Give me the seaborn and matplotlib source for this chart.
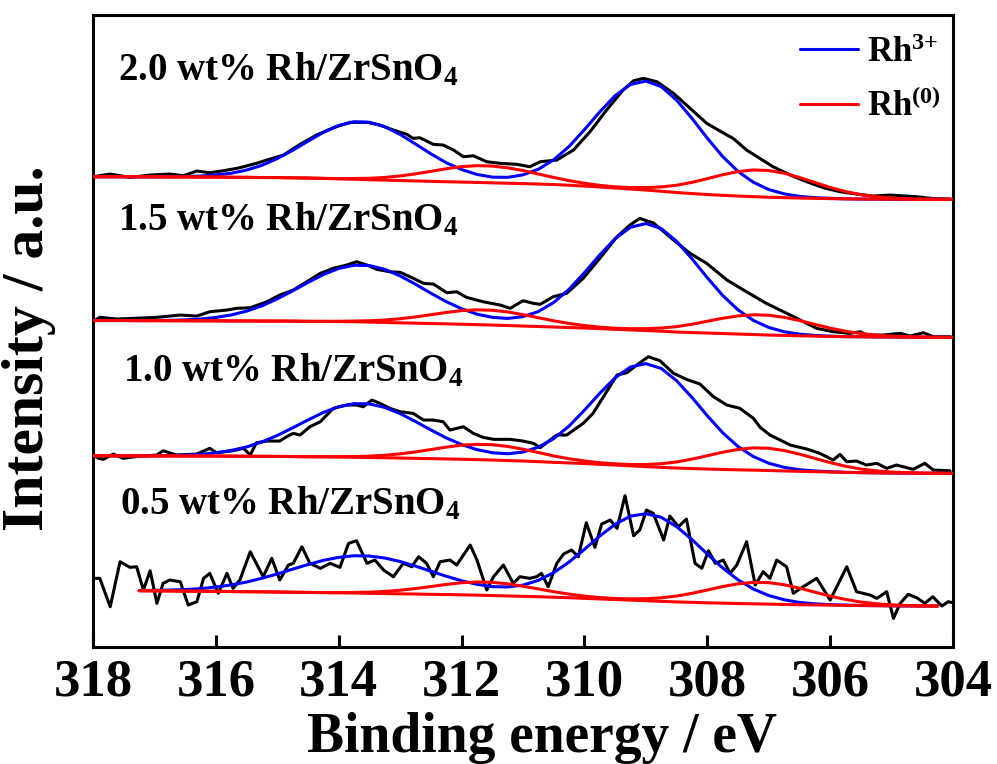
import numpy as np
import matplotlib
matplotlib.use('Agg')
import matplotlib.pyplot as plt
import seaborn as sns

# ---------------- data ----------------
sample_labels = ['2.0 wt% Rh/ZrSnO$_4$', '1.5 wt% Rh/ZrSnO$_4$',
                 '1.0 wt% Rh/ZrSnO$_4$', '0.5 wt% Rh/ZrSnO$_4$']
legend_labels = ['Rh$^{3{+}}$', 'Rh$^{(0)}$']
x_ticks = [318, 316, 314, 312, 310, 308, 306, 304]

# experimental spectra (binding energy / eV, stacked intensity / a.u.)
exp_E_20 = [318.00, 317.72, 317.40, 317.07, 316.75, 316.53, 316.31, 316.10, 315.88, 315.66,
            315.55, 315.34, 315.17, 314.90, 314.63, 314.36, 314.09, 313.82, 313.54, 313.33,
            313.11, 312.89, 312.79, 312.68, 312.46, 312.30, 312.13, 311.97, 311.81, 311.59,
            311.37, 311.10, 310.89, 310.72, 310.45, 310.18, 309.91, 309.64, 309.37, 309.20,
            309.04, 308.82, 308.55, 308.28, 308.01, 307.68, 307.58, 307.36, 306.93, 306.65,
            306.38, 306.11, 305.84, 305.57, 305.30, 305.03, 304.59, 304.33, 304.05]
exp_I_20 = [470.3, 473.0, 469.7, 472.0, 473.0, 471.3, 476.0, 474.3, 476.3, 478.7,
            480.3, 483.7, 487.0, 492.0, 502.7, 512.0, 519.3, 524.7, 524.7, 522.0,
            517.0, 512.7, 508.7, 509.3, 502.7, 502.0, 497.0, 490.3, 491.3, 485.3,
            483.7, 482.7, 480.3, 485.3, 487.0, 497.0, 515.3, 537.0, 557.0, 566.3,
            568.7, 565.3, 553.7, 538.7, 523.7, 512.0, 508.7, 497.0, 480.3, 472.0,
            465.3, 459.3, 455.3, 453.0, 451.0, 452.0, 450.3, 448.5, 448.0]

exp_E_15 = [318.00, 317.89, 317.61, 317.34, 316.96, 316.58, 316.31, 316.10, 315.82, 315.66,
            315.44, 315.17, 314.96, 314.74, 314.52, 314.30, 314.09, 313.87, 313.71, 313.54,
            313.38, 313.17, 313.00, 312.84, 312.62, 312.46, 312.24, 312.08, 311.92, 311.65,
            311.37, 311.21, 311.00, 310.83, 310.72, 310.51, 310.29, 310.02, 309.75, 309.47,
            309.26, 309.10, 308.99, 308.88, 308.55, 308.28, 308.01, 307.68, 307.41, 307.04,
            306.65, 306.22, 305.95, 305.68, 305.51, 305.41, 305.14, 304.86, 304.70, 304.48,
            304.32, 304.05]
exp_I_15 = [325.3, 329.7, 328.0, 328.7, 329.7, 332.0, 331.0, 335.3, 337.0, 338.7,
            339.3, 345.3, 352.0, 357.0, 365.3, 373.7, 378.7, 382.0, 385.3, 382.0,
            377.7, 375.3, 374.7, 370.3, 363.7, 363.0, 354.3, 355.3, 349.7, 345.3,
            342.0, 338.7, 346.3, 343.7, 342.7, 350.3, 353.7, 368.7, 388.7, 410.3,
            422.0, 428.7, 426.3, 424.3, 407.0, 393.7, 383.7, 367.0, 357.0, 343.7,
            332.0, 318.7, 315.3, 313.7, 315.3, 312.0, 312.0, 313.7, 311.0, 314.3,
            310.3, 310.3]

exp_E_10 = [318.00, 317.91, 317.83, 317.67, 317.51, 317.23, 316.96, 316.86, 316.64, 316.31,
            316.10, 315.99, 315.72, 315.55, 315.44, 315.34, 315.17, 314.96, 314.85, 314.74,
            314.63, 314.47, 314.30, 314.09, 313.87, 313.71, 313.60, 313.46, 313.33, 313.17,
            313.00, 312.79, 312.62, 312.46, 312.30, 312.19, 311.97, 311.81, 311.65, 311.48,
            311.21, 311.00, 310.83, 310.72, 310.56, 310.45, 310.29, 310.02, 309.86, 309.64,
            309.47, 309.31, 309.15, 308.96, 308.77, 308.55, 308.34, 308.12, 307.90, 307.68,
            307.47, 307.25, 307.14, 306.98, 306.87, 306.65, 306.38, 306.17, 305.95, 305.84,
            305.73, 305.57, 305.41, 305.24, 305.08, 304.92, 304.65, 304.46, 304.32, 304.05]
exp_I_10 = [192.0, 188.7, 187.7, 193.0, 188.7, 191.0, 192.0, 196.3, 192.0, 193.0,
            198.7, 194.3, 196.3, 198.7, 192.0, 204.3, 206.0, 206.0, 210.3, 213.7,
            212.0, 220.3, 225.3, 238.7, 242.0, 242.0, 240.3, 247.0, 243.7, 238.7,
            235.3, 233.7, 227.0, 227.0, 225.3, 217.0, 220.3, 213.7, 209.7, 207.7,
            207.7, 206.0, 203.7, 199.3, 207.0, 212.0, 212.0, 223.7, 233.7, 255.3,
            272.0, 274.3, 282.0, 290.3, 286.3, 273.7, 267.7, 263.0, 250.3, 242.0,
            238.7, 228.7, 219.7, 212.0, 208.7, 202.0, 198.0, 193.7, 187.0, 192.7,
            185.3, 186.0, 182.0, 183.7, 178.7, 182.0, 177.7, 183.7, 177.0, 176.3]

exp_E_05 = [318.00, 317.89, 317.72, 317.56, 317.40, 317.29, 317.18, 317.07, 316.96, 316.86,
            316.75, 316.58, 316.45, 316.31, 316.20, 316.10, 315.96, 315.82, 315.72, 315.61,
            315.44, 315.23, 315.09, 314.96, 314.82, 314.74, 314.60, 314.47, 314.30, 314.14,
            313.98, 313.84, 313.71, 313.54, 313.41, 313.27, 313.11, 312.95, 312.81, 312.70,
            312.57, 312.46, 312.35, 312.19, 312.08, 311.86, 311.75, 311.59, 311.48, 311.32,
            311.16, 311.05, 310.89, 310.78, 310.70, 310.59, 310.45, 310.34, 310.21, 310.10,
            309.97, 309.83, 309.72, 309.58, 309.47, 309.34, 309.20, 309.10, 308.99, 308.88,
            308.71, 308.61, 308.47, 308.34, 308.20, 308.09, 307.98, 307.87, 307.74, 307.63,
            307.52, 307.36, 307.22, 307.09, 306.98, 306.87, 306.71, 306.60, 306.44, 306.22,
            306.00, 305.73, 305.57, 305.35, 305.24, 305.08, 304.97, 304.86, 304.73, 304.59,
            304.46, 304.33, 304.18, 304.08, 304.00]
exp_I_05 = [68.7, 68.7, 40.3, 85.3, 79.7, 80.3, 57.0, 76.3, 43.7, 63.7,
            67.0, 65.3, 42.0, 45.3, 68.7, 73.7, 53.7, 73.7, 58.7, 67.0,
            95.3, 70.3, 88.7, 67.0, 82.0, 83.7, 100.3, 83.7, 78.7, 83.7,
            79.7, 103.7, 106.3, 83.7, 87.0, 77.0, 70.3, 83.7, 80.3, 90.3,
            83.7, 70.3, 85.3, 87.0, 82.0, 102.0, 87.0, 57.0, 70.3, 82.0,
            63.7, 70.3, 68.7, 70.3, 73.7, 60.3, 83.7, 93.0, 97.0, 90.3,
            124.3, 99.7, 123.0, 127.0, 118.7, 151.3, 111.3, 117.0, 137.0, 133.7,
            107.0, 131.0, 120.3, 128.0, 83.7, 78.7, 96.3, 83.7, 87.0, 73.7,
            82.0, 105.3, 62.0, 75.3, 68.7, 87.0, 80.3, 53.7, 60.3, 68.7,
            47.0, 80.3, 55.3, 52.0, 48.7, 55.3, 28.7, 43.7, 52.7, 49.3,
            43.7, 50.3, 41.0, 45.3, 44.3]

# fitted curves: sampling energies, Shirley background and the two component envelopes
fit_E = [318.0, 317.75, 317.5, 317.25, 317.0, 316.75, 316.5, 316.25, 316.0, 315.75,
         315.5, 315.25, 315.0, 314.75, 314.5, 314.25, 314.0, 313.75, 313.5, 313.25,
         313.0, 312.75, 312.5, 312.25, 312.0, 311.75, 311.5, 311.25, 311.0, 310.75,
         310.5, 310.25, 310.0, 309.75, 309.5, 309.25, 309.0, 308.75, 308.5, 308.25,
         308.0, 307.75, 307.5, 307.25, 307.0, 306.75, 306.5, 306.25, 306.0, 305.75,
         305.5, 305.25, 305.0, 304.75, 304.5, 304.25, 304.0]

bg_20 = [470.3, 470.3, 470.3, 470.2, 470.2, 470.1, 470.1, 470.0, 470.0, 469.8,
         469.7, 469.5, 469.5, 469.2, 469.0, 468.6, 468.2, 467.8, 467.3, 466.9,
         466.5, 466.1, 465.7, 465.3, 465.0, 464.6, 464.2, 463.8, 463.5, 463.0,
         462.5, 461.8, 461.0, 460.0, 459.0, 458.0, 457.0, 455.8, 454.5, 453.5,
         452.5, 451.7, 451.0, 450.4, 449.8, 449.4, 449.0, 448.7, 448.4, 448.2,
         448.0, 447.9, 447.8, 447.8, 447.7, 447.7, 447.7]
rh3_20 = [0, 0, 0, 0, 0, 0.2, 0.4, 1.0, 2.1, 4.0,
          7.3, 12.2, 19.0, 27.5, 36.9, 46.1, 53.4, 57.5, 57.5, 53.4,
          46.1, 36.9, 27.5, 19.0, 12.5, 8.0, 5.7, 5.9, 8.7, 14.8,
          24.8, 38.8, 56.4, 75.2, 92.4, 104.6, 109.0, 104.6, 92.4, 75.2,
          56.4, 38.8, 24.6, 14.4, 7.7, 3.8, 1.7, 0.7, 0.3, 0,
          0, 0, 0, 0, 0, 0, 0]
rh0_20 = [0, 0, 0, 0, 0, 0, 0, 0, 0, 0,
          0, 0, 0, 0, 0, 0.1, 0.3, 0.7, 1.5, 2.7,
          4.6, 7.1, 10.0, 13.0, 15.4, 16.8, 16.8, 15.4, 13.0, 10.0,
          7.1, 4.6, 2.8, 1.7, 1.2, 1.5, 2.5, 4.3, 7.3, 11.2,
          15.9, 20.6, 24.5, 26.7, 26.7, 24.5, 20.6, 15.9, 11.2, 7.3,
          4.3, 2.4, 1.2, 0.5, 0.2, 0.1, 0]

bg_15 = [326.5, 326.5, 326.5, 326.4, 326.4, 326.3, 326.3, 326.2, 326.2, 326.1,
         326.1, 326.0, 326.0, 325.9, 325.7, 325.6, 325.5, 325.3, 325.0, 324.6,
         324.2, 323.9, 323.5, 323.2, 322.8, 322.4, 322.0, 321.5, 321.0, 320.5,
         320.0, 319.5, 319.0, 318.4, 317.7, 317.1, 316.5, 315.8, 315.0, 314.5,
         314.0, 313.5, 313.0, 312.5, 312.0, 311.6, 311.2, 310.9, 310.6, 310.4,
         310.3, 310.1, 310.0, 309.9, 309.8, 309.7, 309.7]
rh3_15 = [0, 0, 0, 0.1, 0.2, 0.4, 0.9, 1.8, 3.4, 6.0,
          9.8, 15.2, 22.2, 30.3, 38.9, 46.9, 53.1, 56.5, 56.5, 53.1,
          46.9, 38.9, 30.3, 22.2, 15.5, 10.5, 7.7, 7.1, 9.4, 15.0,
          24.6, 38.3, 55.4, 73.8, 90.7, 102.7, 107.0, 102.7, 90.7, 73.8,
          55.3, 38.1, 24.2, 14.1, 7.6, 3.7, 1.7, 0.7, 0.3, 0,
          0, 0, 0, 0, 0, 0, 0]
rh0_15 = [0, 0, 0, 0, 0, 0, 0, 0, 0, 0,
          0, 0, 0, 0, 0, 0.1, 0.3, 0.7, 1.3, 2.4,
          4.1, 6.2, 8.8, 11.4, 13.6, 14.8, 14.8, 13.6, 11.4, 8.8,
          6.2, 4.1, 2.5, 1.5, 1.1, 1.2, 1.9, 3.2, 5.4, 8.3,
          11.8, 15.3, 18.1, 19.8, 19.8, 18.1, 15.3, 11.8, 8.3, 5.4,
          3.2, 1.8, 0.9, 0.4, 0.2, 0.1, 0]

bg_10 = [191.2, 191.2, 191.1, 191.1, 191.1, 191.1, 191.0, 191.0, 191.0, 190.9,
         190.8, 190.7, 190.6, 190.5, 190.3, 190.2, 190.0, 189.8, 189.5, 189.3,
         189.0, 188.7, 188.4, 188.1, 187.8, 187.4, 187.0, 186.5, 186.0, 185.4,
         184.7, 184.1, 183.5, 182.7, 182.0, 181.2, 180.4, 179.7, 179.0, 178.5,
         178.0, 177.6, 177.2, 176.9, 176.5, 176.1, 175.7, 175.4, 175.0, 174.7,
         174.4, 174.2, 174.0, 173.9, 173.8, 173.7, 173.7]
rh3_10 = [0, 0, 0, 0.1, 0.2, 0.4, 0.9, 1.7, 3.2, 5.7,
          9.3, 14.4, 21.0, 28.7, 36.8, 44.4, 50.3, 53.6, 53.6, 50.3,
          44.4, 36.8, 28.7, 21.0, 14.7, 10.0, 7.3, 6.8, 9.0, 14.5,
          23.7, 36.9, 53.4, 71.1, 87.3, 98.9, 103.0, 98.9, 87.3, 71.1,
          53.3, 36.7, 23.3, 13.6, 7.3, 3.6, 1.6, 0.7, 0.3, 0,
          0, 0, 0, 0, 0, 0, 0]
rh0_10 = [0, 0, 0, 0, 0, 0, 0, 0, 0, 0,
          0, 0, 0, 0, 0, 0.1, 0.3, 0.7, 1.4, 2.5,
          4.2, 6.4, 9.1, 11.8, 14.1, 15.3, 15.3, 14.1, 11.8, 9.1,
          6.4, 4.2, 2.6, 1.6, 1.2, 1.3, 2.1, 3.6, 6.1, 9.4,
          13.3, 17.2, 20.4, 22.3, 22.3, 20.4, 17.2, 13.3, 9.4, 6.1,
          3.6, 2.0, 1.0, 0.5, 0.2, 0.1, 0]

nan = float('nan')
bg_05 = [nan, nan, nan, 56.3, 56.2, 56.1, 55.9, 55.8, 55.7, 55.5,
         55.3, 55.2, 55.0, 54.8, 54.6, 54.4, 54.2, 54.0, 53.7, 53.5,
         53.2, 53.0, 52.7, 52.5, 52.2, 51.9, 51.5, 51.1, 50.7, 50.3,
         49.8, 49.3, 48.7, 48.1, 47.5, 46.9, 46.3, 45.7, 45.1, 44.7,
         44.2, 43.9, 43.5, 43.2, 42.9, 42.6, 42.3, 42.1, 41.9, 41.7,
         41.5, 41.4, 41.2, 41.1, 41.0, 41.0, nan]
rh3_05 = [0, 0, 0, 0.2, 0.5, 0.9, 1.6, 2.6, 4.3, 6.6,
          9.7, 13.6, 18.1, 23.1, 27.9, 32.3, 35.5, 37.3, 37.3, 35.5,
          32.3, 27.9, 23.1, 18.3, 14.1, 10.8, 8.9, 9.0, 11.2, 16.4,
          24.6, 35.7, 49.0, 62.9, 75.3, 84.0, 87.0, 84.0, 75.3, 62.8,
          48.8, 35.2, 23.7, 14.8, 8.6, 4.7, 2.3, 1.1, 0.5, 0.2,
          0, 0, 0, 0, 0, 0, 0]
rh0_05 = [0, 0, 0, 0, 0, 0, 0, 0, 0, 0,
          0, 0, 0, 0, 0, 0.1, 0.3, 0.6, 1.2, 2.1,
          3.6, 5.5, 7.8, 10.1, 12.1, 13.2, 13.2, 12.1, 10.1, 7.8,
          5.5, 3.6, 2.2, 1.4, 1.0, 1.3, 2.0, 3.5, 5.9, 9.0,
          12.8, 16.6, 19.7, 21.5, 21.5, 19.7, 16.6, 12.8, 9.0, 5.9,
          3.5, 1.9, 1.0, 0.4, 0.2, 0.1, 0]

# ---------------- style ----------------
sns.set_style('ticks')
plt.rcParams['font.family'] = ['Liberation Serif', 'DejaVu Serif']
plt.rcParams['font.weight'] = 'bold'
plt.rcParams['mathtext.fontset'] = 'custom'
plt.rcParams['mathtext.rm'] = 'Liberation Serif:bold'
plt.rcParams['mathtext.bf'] = 'Liberation Serif:bold'
plt.rcParams['mathtext.it'] = 'Liberation Serif:bold:italic'
plt.rcParams['mathtext.default'] = 'rm'
plt.rcParams['axes.linewidth'] = 2.2
for key in ['text.color', 'axes.labelcolor', 'xtick.color', 'ytick.color',
            'axes.edgecolor']:
    plt.rcParams[key] = 'black'

fig = plt.figure(figsize=(9.97, 7.64), dpi=100)
ax = fig.add_axes([0.0933, 0.1531, 0.8626, 0.8272])

spectra = [
    (exp_E_20, exp_I_20, bg_20, rh3_20, rh0_20),
    (exp_E_15, exp_I_15, bg_15, rh3_15, rh0_15),
    (exp_E_10, exp_I_10, bg_10, rh3_10, rh0_10),
    (exp_E_05, exp_I_05, bg_05, rh3_05, rh0_05),
]

LW = 2.2
blue_handle = red_handle = None
for k, (eE, eI, bg, r3, r0) in enumerate(spectra):
    bg_a = np.array(bg, dtype=float)
    sns.lineplot(x=eE, y=eI, color='black', lw=LW, ax=ax, sort=False,
                 estimator=None, zorder=2)
    sns.lineplot(x=fit_E, y=bg_a + np.array(r3), color='#0000ff', lw=LW, ax=ax,
                 sort=False, estimator=None, zorder=3)
    if k == 0:
        blue_handle = ax.lines[-1]
    sns.lineplot(x=fit_E, y=bg_a + np.array(r0), color='#ff0000', lw=LW, ax=ax,
                 sort=False, estimator=None, zorder=4)
    if k == 0:
        red_handle = ax.lines[-1]
    sns.lineplot(x=fit_E, y=bg_a, color='#ff0000', lw=LW, ax=ax,
                 sort=False, estimator=None, zorder=4)

# sample labels
label_pos = [(0.029, 0.897), (0.029, 0.660), (0.035, 0.420), (0.031, 0.210)]
for lab, (lx, ly) in zip(sample_labels, label_pos):
    ax.text(lx, ly, lab, transform=ax.transAxes, fontsize=28, fontweight='bold',
            ha='left', va='baseline', color='black')

ax.set_xlim(318, 304)
ax.set_ylim(0, 632)
ax.set_xticks(x_ticks)
ax.set_xticklabels([str(t) for t in x_ticks])
ax.tick_params(axis='x', direction='in', length=8.5, width=2.2, labelsize=38,
               pad=8, top=False, colors='black')
ax.tick_params(axis='y', left=False, right=False, labelleft=False)
for sp in ax.spines.values():
    sp.set_visible(True)
    sp.set_linewidth(2.2)
    sp.set_color('black')

ax.set_xlabel('Binding energy / eV', fontsize=40, fontweight='bold', color='black')
ax.xaxis.set_label_coords(0.522, -0.103)
ax.set_ylabel('Intensity / a.u.', fontsize=43, fontweight='bold', color='black')
ax.yaxis.set_label_coords(-0.0435, 0.473)

leg = ax.legend([blue_handle, red_handle], legend_labels, loc='upper left',
                bbox_to_anchor=(0.822, 0.966), frameon=False, fontsize=25,
                handlelength=1.67, handletextpad=0.26, labelspacing=0.58,
                borderpad=0, borderaxespad=0)
for t in leg.get_texts():
    t.set_color('black')

fig.savefig('out.png', dpi=100)
